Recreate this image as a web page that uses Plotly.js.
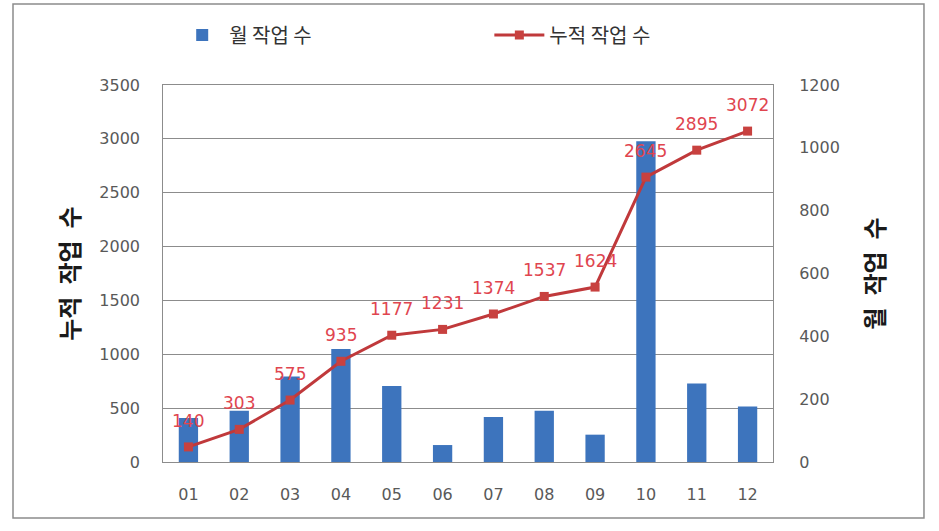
<!DOCTYPE html>
<html><head><meta charset="utf-8">
<script src="https://cdn.plot.ly/plotly-3.0.1.min.js"></script>
<style>html,body{margin:0;padding:0;background:#fff}#chart{width:939px;height:531px}</style>
</head><body><div id="chart"></div>
<script>
const months = ['01','02','03','04','05','06','07','08','09','10','11','12'];
const monthly = [140,163,272,360,242,54,143,163,87,1021,250,177];
const cumulative = [140,303,575,935,1177,1231,1374,1537,1624,2645,2895,3072];
const leftTicks = [0,500,1000,1500,2000,2500,3000,3500];
const rightTicks = [0,200,400,600,800,1000,1200];

const tickFont = {family:'DejaVu Sans, Verdana, sans-serif', size:16, color:'#595959'};
const titleFont = {family:'Noto Sans CJK KR, sans-serif', size:24, color:'#1a1a1a', weight:'bold'};
const legendFont = {family:'Noto Sans CJK KR, sans-serif', size:20, color:'#333'};
const labelFont = {family:'DejaVu Sans, Verdana, sans-serif', size:17, color:'#e0454f'};

// bars on the right-hand axis (yaxis), line on the left-hand axis (yaxis2, drawn on top)
const traces = [
  {type:'bar', name:'월 작업 수', x:months, y:monthly, yaxis:'y', legend:'legend',
   marker:{color:'#3d74bd'}},
  {type:'scatter', mode:'lines+markers', name:'누적 작업 수', x:months, y:cumulative, yaxis:'y2', legend:'legend2',
   line:{color:'#c0393b', width:3}, marker:{symbol:'square', size:9, color:'#c8413f'}}
];

// category index i corresponds to months[i]
const annotations = months.map((m, i) => ({
  x:i, y:cumulative[i], xref:'x', yref:'y2', text:String(cumulative[i]),
  showarrow:false, yshift:26, font:labelFont
}));

const layout = {
  width:939, height:531,
  margin:{l:163, r:166, t:85, b:69},
  paper_bgcolor:'#fff', plot_bgcolor:'#fff',
  showlegend:true,
  bargap:0.62,
  legend:{orientation:'h', x:0.02, xanchor:'left', y:1.1326, yanchor:'middle',
    font:legendFont, bgcolor:'rgba(0,0,0,0)', itemwidth:44},
  legend2:{orientation:'h', x:0.535, xanchor:'left', y:1.1326, yanchor:'middle',
    font:legendFont, bgcolor:'rgba(0,0,0,0)', itemwidth:50},
  xaxis:{type:'category', categoryarray:months, categoryorder:'array', range:[-0.5, months.length-0.5],
    tickfont:tickFont, showline:true, linecolor:'#8c8c8c', linewidth:1,
    mirror:true, ticks:'', ticklabelstandoff:18, showgrid:false},
  yaxis:{range:[0,1200], tickvals:rightTicks, side:'right', tickfont:tickFont,
    showgrid:false, zeroline:false, ticks:'', ticklabelstandoff:22, showline:true, linecolor:'#8c8c8c', mirror:true,
    title:{text:'월\u2002작업\u2002수', font:titleFont, standoff:28}},
  yaxis2:{range:[0,3500], tickvals:leftTicks, overlaying:'y', side:'left', tickfont:tickFont,
    showline:false, gridcolor:'#8c8c8c', gridwidth:1, showgrid:true, zeroline:false, ticks:'', ticklabelstandoff:22,
    title:{text:'누적\u2002작업\u2002수', font:titleFont, standoff:12}},
  annotations: annotations,
  shapes:[{type:'rect', xref:'paper', yref:'paper', x0:-0.2459, x1:1.2475, y0:-0.1485, y1:1.2149,
    line:{color:'#8c8c8c', width:1.5}, fillcolor:'rgba(0,0,0,0)', layer:'below'}]
};
Plotly.newPlot('chart', traces, layout, {displayModeBar:false, staticPlot:true});
</script></body></html>
